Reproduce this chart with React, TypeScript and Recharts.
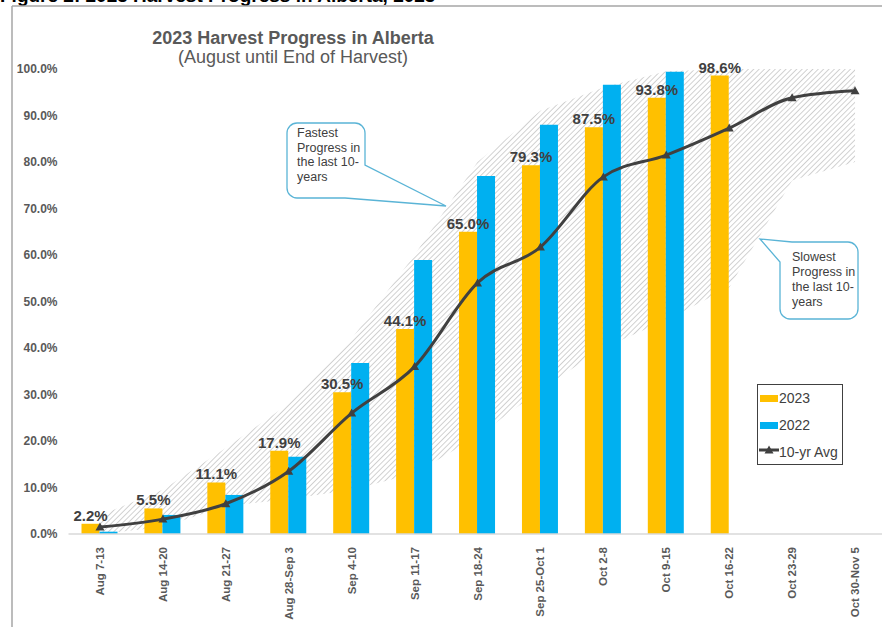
import React from 'react';
import { ComposedChart, Bar, Line, Area, XAxis, YAxis, Legend, LabelList } from 'recharts';

const categories = ['Aug 7-13', 'Aug 14-20', 'Aug 21-27', 'Aug 28-Sep 3', 'Sep 4-10', 'Sep 11-17', 'Sep 18-24', 'Sep 25-Oct 1', 'Oct 2-8', 'Oct 9-15', 'Oct 16-22', 'Oct 23-29', 'Oct 30-Nov 5'];
const values2023 = [2.2, 5.5, 11.1, 17.9, 30.5, 44.1, 65.0, 79.3, 87.5, 93.8, 98.6, null, null];
const values2022 = [0.5, 4.1, 8.4, 16.6, 36.8, 58.9, 77.0, 88.0, 96.6, 99.4, null, null, null];
const avg10yr = [1.5, 3.2, 6.5, 13.5, 26.0, 36.0, 54.0, 61.7, 76.8, 81.5, 87.3, 93.8, 95.3];
const fastest10yr = [4, 9.5, 18.5, 28, 42, 60, 80, 91, 96, 99.5, 100, 100, 100];
const slowest10yr = [0, 1.5, 6, 7.5, 9.5, 13, 21, 31, 40, 46, 53, 76, 80];
const yTicks = [0, 10, 20, 30, 40, 50, 60, 70, 80, 90, 100];

const FONT = '"Liberation Sans", Arial, Helvetica, sans-serif';

const data = categories.map((cat, i) => ({
  cat,
  y2023: values2023[i],
  y2022: values2022[i],
  avg: avg10yr[i],
  low: slowest10yr[i],
  high: fastest10yr[i],
}));

const TriangleDot = (props: any) => {
  const { cx, cy, index } = props;
  if (cx == null || cy == null) return null;
  return <path key={`t${index}`} d={`M${cx - 4.5},${cy + 3.5} L${cx},${cy - 4.5} L${cx + 4.5},${cy + 3.5} Z`} fill="#404040" />;
};

const XTick = (props: any) => {
  const { x, y, payload } = props;
  return (
    <g transform={`translate(${x},${y})`}>
      <text
        x={0}
        y={0}
        transform="rotate(-90)"
        textAnchor="end"
        dominantBaseline="central"
        fill="#595959"
        style={{ fontFamily: FONT, fontSize: '11.5px', fontWeight: 'bold' }}
      >
        {payload.value}
      </text>
    </g>
  );
};

const renderLegend = () => (
  <div
    style={{
      position: 'relative',
      width: 86,
      height: 81,
      boxSizing: 'border-box',
      border: '1.5px solid #404040',
      fontFamily: FONT,
      fontSize: 14,
      color: '#404040',
      background: '#fff',
    }}
  >
    <div style={{ position: 'absolute', left: 2, top: 10, width: 18, height: 7, background: '#FFC000' }} />
    <div style={{ position: 'absolute', left: 21, top: 5, lineHeight: '16px' }}>2023</div>
    <div style={{ position: 'absolute', left: 2, top: 37, width: 18, height: 7, background: '#00B0F0' }} />
    <div style={{ position: 'absolute', left: 21, top: 32, lineHeight: '16px' }}>2022</div>
    <svg style={{ position: 'absolute', left: 0, top: 58 }} width={22} height={14}>
      <line x1={1} y1={7} x2={21} y2={7} stroke="#404040" strokeWidth={3} />
      <path d="M6.5,10.5 L11,2.5 L15.5,10.5 Z" fill="#404040" />
    </svg>
    <div style={{ position: 'absolute', left: 21, top: 59, lineHeight: '16px' }}>10-yr Avg</div>
  </div>
);

export default function App() {
  return (
    <div style={{ position: 'absolute', left: 0, top: 0, width: 882, height: 627, overflow: 'hidden', background: '#fff', fontFamily: FONT }}>
      <ComposedChart
        width={900}
        height={627}
        data={data}
        margin={{ top: 69, right: 13.5, bottom: 0, left: 12 }}
        barGap={0}
      >
        <defs>
          <pattern id="hatch" width="3.8" height="3.8" patternUnits="userSpaceOnUse" patternTransform="rotate(45)">
            <line x1="0" y1="0" x2="0" y2="3.8" stroke="#a3a3a3" strokeWidth="1" />
          </pattern>
        </defs>
        <XAxis
          dataKey="cat"
          type="category"
          height={93}
          interval={0}
          tickLine={false}
          tickSize={0}
          tickMargin={13}
          axisLine={{ stroke: '#d9d9d9', strokeWidth: 1.5 }}
          tick={<XTick />}
        />
        <YAxis
          width={56.5}
          domain={[0, 100]}
          ticks={yTicks}
          interval={0}
          axisLine={false}
          tickLine={false}
          tickSize={0}
          tickMargin={11}
          tickFormatter={(v: number) => `${v.toFixed(1)}%`}
          tick={{ fontSize: 12, fontWeight: 'bold', fill: '#595959', fontFamily: FONT }}
        />
        <Area
          type="linear"
          dataKey={(d: any) => [d.low, d.high]}
          fill="url(#hatch)"
          fillOpacity={1}
          stroke="none"
          isAnimationActive={false}
          legendType="none"
        />
        <Bar dataKey="y2023" fill="#FFC000" barSize={18} isAnimationActive={false}>
          <LabelList
            dataKey="y2023"
            position="top"
            offset={3}
            formatter={(v: any) => (v == null ? '' : `${Number(v).toFixed(1)}%`)}
            fill="#404040"
            fontSize={15}
            fontWeight="bold"
            fontFamily={FONT}
          />
        </Bar>
        <Bar dataKey="y2022" fill="#00B0F0" barSize={18} isAnimationActive={false} />
        <Line
          type="monotone"
          dataKey="avg"
          stroke="#404040"
          strokeWidth={3}
          dot={<TriangleDot />}
          activeDot={false}
          isAnimationActive={false}
        />
        <Legend
          layout="vertical"
          align="center"
          verticalAlign="middle"
          content={renderLegend}
          wrapperStyle={{ position: 'absolute', left: 757, top: 384, width: 86, height: 81 }}
        />
      </ComposedChart>
      <svg
        width={882}
        height={627}
        style={{ position: 'absolute', left: 0, top: 0, pointerEvents: 'none' }}
      >
        <text x={0} y={1.5} fontSize={19} fontWeight="bold" fill="#000" fontFamily={FONT}>
          Figure 2: 2023 Harvest Progress in Alberta, 2023
        </text>
        <line x1={12} y1={6} x2={882} y2={6} stroke="#a6a6a6" strokeWidth={1.5} />
        <line x1={12} y1={6} x2={12} y2={627} stroke="#a6a6a6" strokeWidth={1.5} />
        <text x={293} y={44} textAnchor="middle" fontSize={18} fontWeight="bold" fill="#595959" fontFamily={FONT}>
          2023 Harvest Progress in Alberta
        </text>
        <text x={293} y={63} textAnchor="middle" fontSize={18} fill="#595959" fontFamily={FONT}>
          (August until End of Harvest)
        </text>
        <path
          d="M297,123 H355 A10,10 0 0 1 365,133 V165 L446,206 L345,198 H297 A10,10 0 0 1 287,188 V133 A10,10 0 0 1 297,123 Z"
          fill="#fff"
          stroke="#5ab4d6"
          strokeWidth={1.3}
        />
        <g fontSize={12.5} fill="#404040" fontFamily={FONT}>
          <text x={297} y={137}>Fastest</text>
          <text x={297} y={151.5}>Progress in</text>
          <text x={297} y={166}>the last 10-</text>
          <text x={297} y={180.5}>years</text>
        </g>
        <path
          d="M792,242 H848 A10,10 0 0 1 858,252 V309 A10,10 0 0 1 848,319 H790 A10,10 0 0 1 780,309 V262 L760,239 Z"
          fill="#fff"
          stroke="#5ab4d6"
          strokeWidth={1.3}
        />
        <g fontSize={12.5} fill="#404040" fontFamily={FONT}>
          <text x={792} y={260.5}>Slowest</text>
          <text x={792} y={275.5}>Progress in</text>
          <text x={792} y={290.5}>the last 10-</text>
          <text x={792} y={305.5}>years</text>
        </g>
      </svg>
    </div>
  );
}
